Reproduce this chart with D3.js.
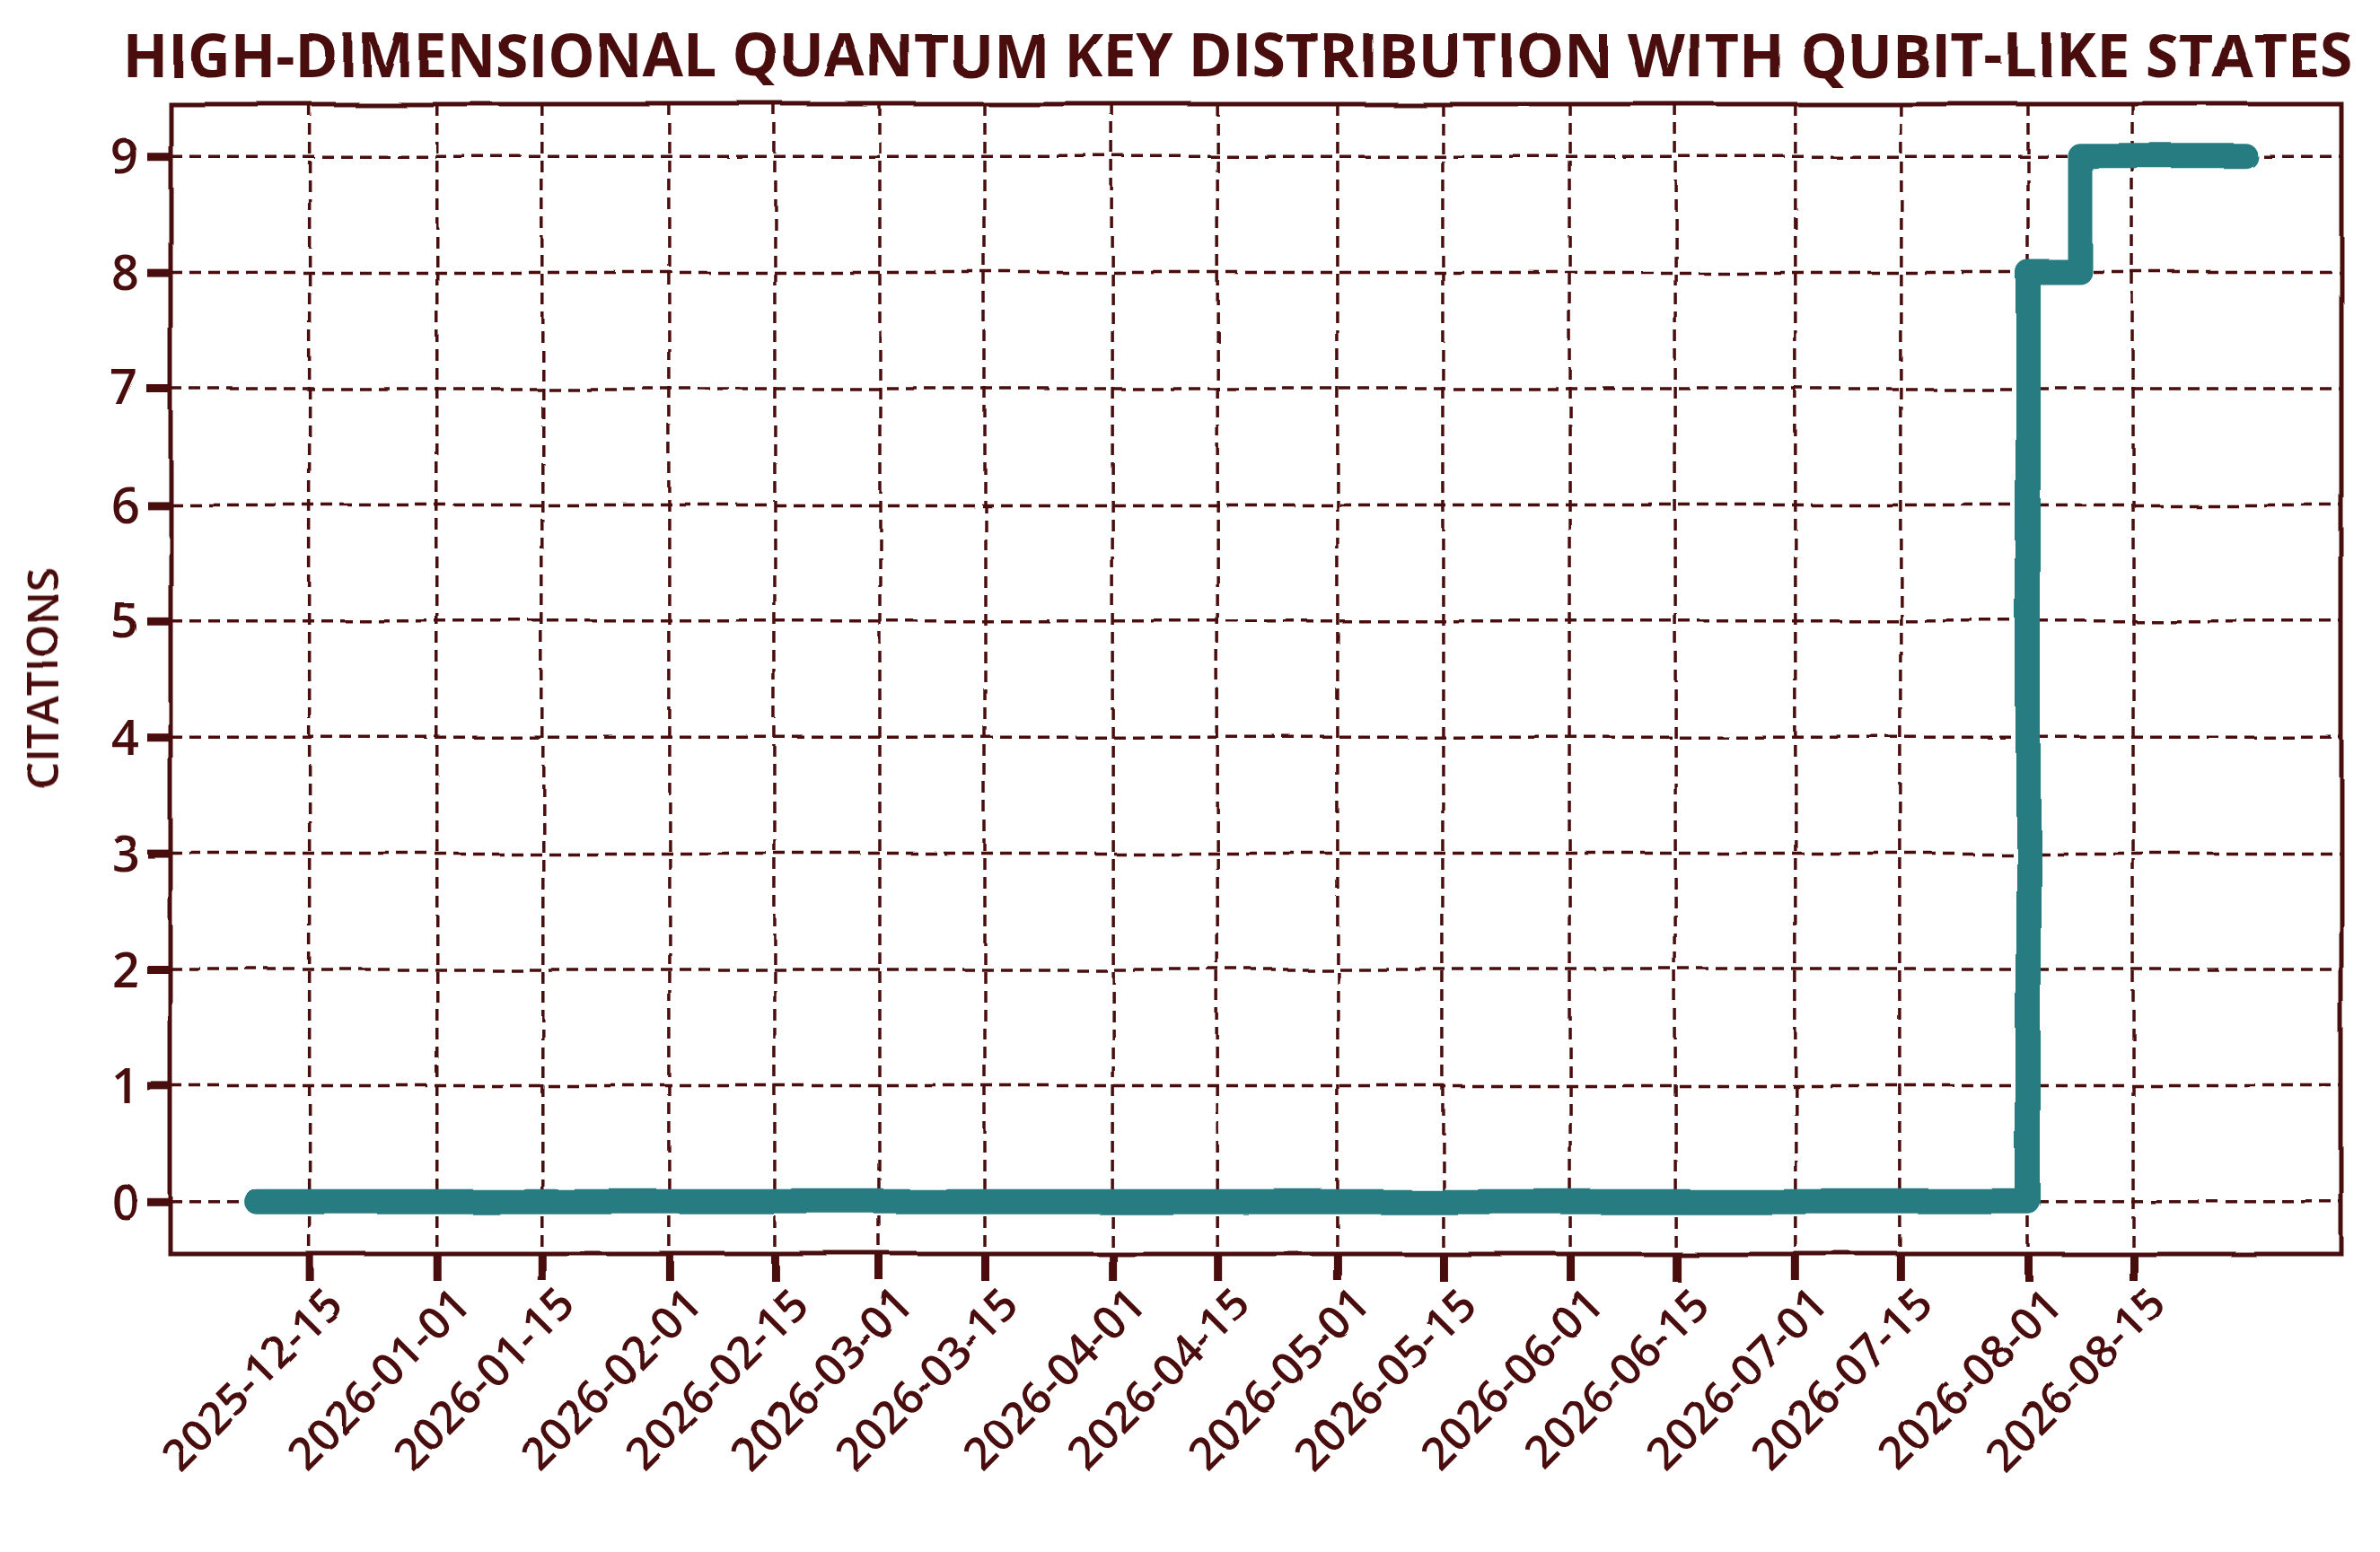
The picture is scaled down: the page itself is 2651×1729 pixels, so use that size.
<!DOCTYPE html>
<html><head><meta charset="utf-8">
<script src="https://cdn.jsdelivr.net/npm/d3@7"></script>
<style>body{margin:0;background:#fff}</style></head>
<body><svg id="c" width="2651" height="1729"></svg>
<script>
const dates = ["2025-12-08","2026-08-01","2026-08-08","2026-08-30"];
const citations = [0,8,9,9];
const xTicks = ["2025-12-15","2026-01-01","2026-01-15","2026-02-01","2026-02-15","2026-03-01","2026-03-15","2026-04-01","2026-04-15","2026-05-01","2026-05-15","2026-06-01","2026-06-15","2026-07-01","2026-07-15","2026-08-01","2026-08-15"];
const yTicks = [0,1,2,3,4,5,6,7,8,9];
const title = "HIGH-DIMENSIONAL QUANTUM KEY DISTRIBUTION WITH QUBIT-LIKE STATES";
const col = "#4a1111", teal = "#267c80", font = "'Comic Sans MS','Open Sans',Lato,sans-serif";
const P = d3.utcParse("%Y-%m-%d");
const L=190,R=2608,T=116,B=1397;
const x = d3.scaleUtc().domain([new Date(Date.UTC(2025,10,26,12)), new Date(Date.UTC(2026,8,11,18))]).range([L,R]);
const y = d3.scaleLinear().domain([-0.45,9.45]).range([B,T]);
const svg = d3.select("#c");
const defs = svg.append("defs");
const f = defs.append("filter").attr("id","w").attr("x","-5%").attr("y","-5%").attr("width","110%").attr("height","110%");
f.append("feTurbulence").attr("type","fractalNoise").attr("baseFrequency","0.006").attr("numOctaves",2).attr("seed",3);
f.append("feDisplacementMap").attr("in","SourceGraphic").attr("scale",7);
const g = svg.append("g").attr("filter","url(#w)");
g.append("g").selectAll("line").data(xTicks).join("line")
 .attr("x1",d=>x(P(d))).attr("x2",d=>x(P(d))).attr("y1",T).attr("y2",B)
 .attr("stroke",col).attr("stroke-width",3.5).attr("stroke-dasharray","13,8");
g.append("g").selectAll("line").data(yTicks).join("line")
 .attr("y1",d=>y(d)).attr("y2",d=>y(d)).attr("x1",L).attr("x2",R)
 .attr("stroke",col).attr("stroke-width",3.5).attr("stroke-dasharray","13,8");
const data = dates.map((d,i)=>({d:P(d),v:citations[i]}));
g.append("path").datum(data).attr("fill","none").attr("stroke",teal).attr("stroke-width",28)
 .attr("stroke-linejoin","round").attr("stroke-linecap","round")
 .attr("d",d3.line().x(d=>x(d.d)).y(d=>y(d.v)).curve(d3.curveStepAfter));
const xa = g.append("g").attr("transform",`translate(0,${B})`)
 .call(d3.axisBottom(x).tickValues(xTicks.map(P)).tickFormat(d3.utcFormat("%Y-%m-%d")).tickSize(30).tickSizeOuter(0));
const ya = g.append("g").attr("transform",`translate(${L},0)`)
 .call(d3.axisLeft(y).tickValues(yTicks).tickSize(26).tickSizeOuter(0));
[xa,ya].forEach(a=>{a.select(".domain").remove();a.selectAll("line").attr("stroke",col).attr("stroke-width",9);
 a.selectAll("text").attr("fill",col).attr("font-family",font).attr("font-size",50).attr("font-weight",600);});
xa.selectAll("text").attr("text-anchor","end").attr("dy",0).attr("dx",0)
 .attr("transform","translate(16,36) rotate(-45)");
ya.selectAll("text").attr("dx",-6).attr("dy","0.35em").attr("font-size",54);
g.append("rect").attr("x",L).attr("y",T).attr("width",R-L).attr("height",B-T)
 .attr("fill","none").attr("stroke",col).attr("stroke-width",5);
g.append("text").attr("x",(L+R)/2 - 20).attr("y",86).attr("text-anchor","middle").attr("fill",col)
 .attr("font-family",font).attr("font-size",66).attr("font-weight","bold").text(title);
g.append("text").attr("transform",`translate(66,${(T+B)/2}) rotate(-90)`).attr("text-anchor","middle")
 .attr("fill",col).attr("font-family",font).attr("font-size",48).attr("font-weight",600).text("CITATIONS");
</script></body></html>
